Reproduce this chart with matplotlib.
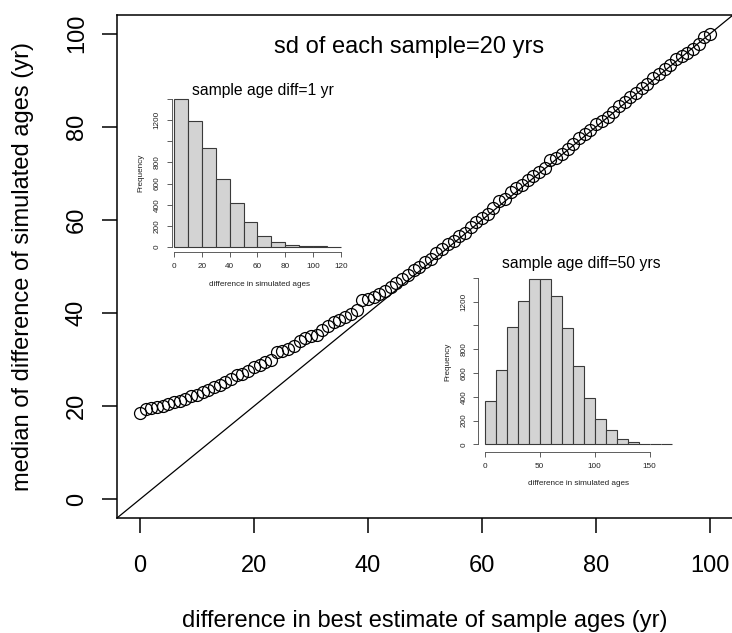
import numpy as np
import matplotlib
matplotlib.use("Agg")
import matplotlib.pyplot as plt

plt.rcParams['font.family'] = ['Liberation Sans', 'DejaVu Sans']

# difference in best estimate of sample ages (yr)
age_diff = list(range(0, 101))
# median of difference of simulated ages (yr)
median_diff = [
    18.5, 19.3, 19.6, 19.8, 20.1, 20.4, 20.8, 21.2, 21.6, 22.1,
    22.5, 23.0, 23.5, 24.2, 24.6, 25.3, 25.8, 26.6, 27.0, 27.6,
    28.4, 28.9, 29.6, 30.0, 31.6, 31.9, 32.3, 33.0, 34.0, 34.6,
    35.0, 35.3, 36.4, 37.3, 38.0, 38.6, 39.2, 39.8, 40.6, 42.8,
    43.0, 43.4, 44.0, 44.8, 45.6, 46.5, 47.3, 48.1, 49.2, 49.8,
    50.9, 51.6, 53.0, 53.8, 54.9, 55.4, 56.5, 57.3, 58.5, 59.6,
    60.5, 61.2, 62.5, 64.0, 64.6, 66.1, 66.8, 67.6, 68.6, 69.5,
    70.3, 71.1, 72.8, 73.4, 74.2, 75.3, 76.3, 77.6, 78.4, 79.3,
    80.5, 81.3, 82.2, 83.2, 84.4, 85.4, 86.3, 87.2, 88.4, 89.1,
    90.4, 91.3, 92.5, 93.3, 94.6, 95.3, 95.9, 96.8, 97.8, 99.2,
    100.0,
]

# histogram counts, bins of 10 yr
hist1_counts = [1398, 1195, 939, 644, 415, 232, 107, 47, 22, 12, 6, 3]
hist2_counts = [367, 625, 990, 1205, 1388, 1388, 1245, 976, 656, 390,
                210, 118, 45, 17, 6, 3, 2]
bin_width = 10

W, H = 732, 633
fig = plt.figure(figsize=(W / 100, H / 100), dpi=100)


def px_axes(x0, y0, x1, y1):
    # x0,y0 top-left and x1,y1 bottom-right in pixels
    return fig.add_axes([x0 / W, 1 - y1 / H, (x1 - x0) / W, (y1 - y0) / H])


# main plot
ax = px_axes(117, 15, 733, 518)
ax.plot(age_diff, median_diff, 'o', mfc='none', mec='black', ms=8.6, mew=0.9)
ax.plot([-4, 104], [-4, 104], color='black', lw=0.9)
ax.set_xlim(-4, 104)
ax.set_ylim(-4, 104)
ax.set_xticks([0, 20, 40, 60, 80, 100])
ax.set_yticks([0, 20, 40, 60, 80, 100])
for s in ax.spines.values():
    s.set_linewidth(1.1)
ax.tick_params(length=11, width=1.1, labelsize=17)
ax.tick_params(axis='x', pad=15.5)
ax.tick_params(axis='y', pad=10, labelrotation=90)
for lab in ax.get_yticklabels():
    lab.set_va('center')
ax.set_xlabel("difference in best estimate of sample ages (yr)", fontsize=17, labelpad=24)
ax.set_ylabel("median of difference of simulated ages (yr)", fontsize=17, labelpad=23)
ax.text(47.2, 97.2, "sd of each sample=20 yrs", fontsize=17, ha='center', va='center')


def draw_hist(box, counts, xmax, xticks, xlim, ylim, title, title_y):
    a = px_axes(*box)
    edges = np.arange(len(counts)) * bin_width
    a.bar(edges, counts, width=bin_width, align='edge', color='#d3d3d3',
          edgecolor='#3a3a3a', linewidth=0.8)
    a.set_xlim(*xlim)
    a.set_ylim(*ylim)
    a.spines['top'].set_visible(False)
    a.spines['right'].set_visible(False)
    a.spines['left'].set_bounds(0, 1400)
    a.spines['bottom'].set_bounds(0, xmax)
    for s in ('left', 'bottom'):
        a.spines[s].set_linewidth(0.6)
        a.spines[s].set_color('#444444')
    a.set_xticks(xticks)
    a.set_yticks(range(0, 1401, 200))
    a.set_yticklabels(['0', '200', '400', '600', '800', '', '1200', ''])
    a.tick_params(length=3.5, width=0.6, color='#444444', labelsize=5.9, pad=4.3,
                  labelcolor='#222222')
    a.tick_params(axis='y', labelrotation=90)
    for lab in a.get_yticklabels():
        lab.set_va('center')
    a.set_xlabel("difference in simulated ages", fontsize=5.9, labelpad=7.5, color='#222222')
    a.set_ylabel("Frequency", fontsize=5.9, labelpad=6.5, color='#222222')
    a.patch.set_alpha(0)
    fig.text((box[0] + box[2]) / 2 / W + 0.004, 1 - title_y / H, title, fontsize=11.3,
             ha='center', va='center')
    return a


# inset 1: x 0 at 174 px, 1.39 px/yr ; y 0 at 247 px, 0.1058 px/count
draw_hist((171.7, 93.0, 347.5, 252.3), hist1_counts, 120, range(0, 121, 20),
          (-1.65, 124.8), (-50, 1456), "sample age diff=1 yr", 90)

# inset 2: x 0 at 484.7 px, 1.1 px/yr ; y 0 at 444.3 px, 0.1188 px/count
draw_hist((478.3, 271.3, 679.0, 451.7), hist2_counts, 150, [0, 50, 100, 150],
          (-5.8, 176.7), (-62, 1456), "sample age diff=50 yrs", 263.3)

fig.savefig("out.png", dpi=100)
